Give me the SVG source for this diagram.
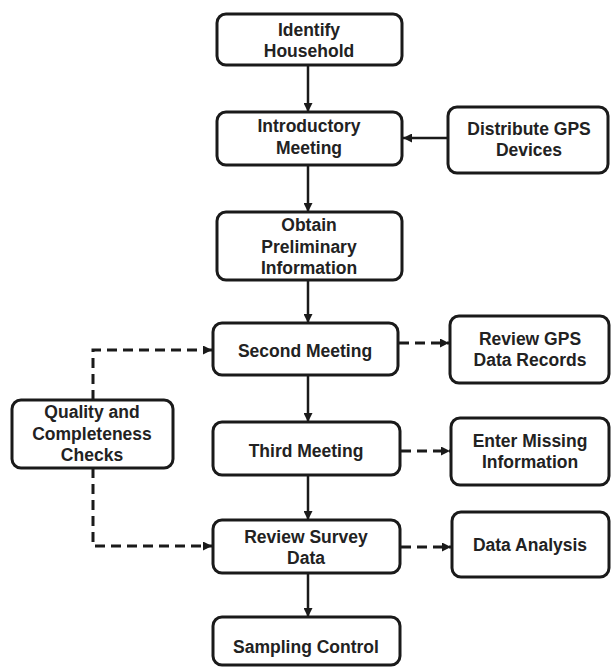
<svg xmlns="http://www.w3.org/2000/svg" width="611" height="670" viewBox="0 0 611 670">
<style>
.box{fill:#fff;stroke:#1a1a1a;stroke-width:3}
.t{font-family:"Liberation Sans",Arial,sans-serif;font-weight:bold;font-size:17.5px;fill:#222;text-anchor:middle}
.s{fill:none;stroke:#1a1a1a;stroke-width:2.5}
.d{fill:none;stroke:#1a1a1a;stroke-width:3;stroke-dasharray:10 6}
</style>
<defs>
<marker id="ah" viewBox="0 0 10 10" refX="10" refY="5" markerWidth="9" markerHeight="9" markerUnits="userSpaceOnUse" orient="auto">
<path d="M0,0 L10,5 L0,10 z" fill="#1a1a1a"/>
</marker>
</defs>
<g id="connectors">
<line class="s" x1="308" y1="65" x2="308" y2="112" marker-end="url(#ah)"/>
<line class="s" x1="448" y1="138" x2="403" y2="138" marker-end="url(#ah)"/>
<line class="s" x1="308" y1="165" x2="308" y2="212" marker-end="url(#ah)"/>
<line class="s" x1="308" y1="280" x2="308" y2="323" marker-end="url(#ah)"/>
<line class="s" x1="308" y1="375" x2="308" y2="422" marker-end="url(#ah)"/>
<line class="s" x1="308" y1="475" x2="308" y2="520" marker-end="url(#ah)"/>
<line class="s" x1="308" y1="573" x2="308" y2="617" marker-end="url(#ah)"/>
<line class="d" x1="399" y1="343" x2="449" y2="343" marker-end="url(#ah)"/>
<line class="d" x1="401" y1="451" x2="450" y2="451" marker-end="url(#ah)"/>
<line class="d" x1="401" y1="547" x2="451" y2="547" marker-end="url(#ah)"/>
<path class="d" d="M93,400 V350 H212" marker-end="url(#ah)"/>
<path class="d" d="M93,468 V546 H212" marker-end="url(#ah)"/>
</g>
<g id="identify">
<rect class="box" x="217" y="14" width="185" height="51" rx="9"/>
<text class="t" x="309" y="36">Identify</text>
<text class="t" x="309" y="57">Household</text>
</g>
<g id="introductory">
<rect class="box" x="217" y="112" width="185" height="53" rx="9"/>
<text class="t" x="309" y="132">Introductory</text>
<text class="t" x="309" y="154">Meeting</text>
</g>
<g id="distribute">
<rect class="box" x="448" y="107" width="160" height="66" rx="9"/>
<text class="t" x="529" y="135">Distribute GPS</text>
<text class="t" x="529" y="156">Devices</text>
</g>
<g id="obtain">
<rect class="box" x="217" y="212" width="185" height="68" rx="9"/>
<text class="t" x="309" y="231">Obtain</text>
<text class="t" x="309" y="253">Preliminary</text>
<text class="t" x="309" y="274">Information</text>
</g>
<g id="second">
<rect class="box" x="213" y="323" width="185" height="52" rx="9"/>
<text class="t" x="305" y="357">Second Meeting</text>
</g>
<g id="reviewgps">
<rect class="box" x="450" y="316" width="159" height="67" rx="9"/>
<text class="t" x="530" y="345">Review GPS</text>
<text class="t" x="530" y="366">Data Records</text>
</g>
<g id="quality">
<rect class="box" x="12" y="400" width="161" height="68" rx="9"/>
<text class="t" x="92" y="418">Quality and</text>
<text class="t" x="92" y="440">Completeness</text>
<text class="t" x="92" y="461">Checks</text>
</g>
<g id="third">
<rect class="box" x="213" y="422" width="187" height="53" rx="9"/>
<text class="t" x="306" y="457">Third Meeting</text>
</g>
<g id="enter">
<rect class="box" x="451" y="418" width="158" height="67" rx="9"/>
<text class="t" x="530" y="447">Enter Missing</text>
<text class="t" x="530" y="468">Information</text>
</g>
<g id="reviewsurvey">
<rect class="box" x="213" y="520" width="187" height="53" rx="9"/>
<text class="t" x="306" y="543">Review Survey</text>
<text class="t" x="306" y="564">Data</text>
</g>
<g id="analysis">
<rect class="box" x="452" y="512" width="157" height="65" rx="9"/>
<text class="t" x="530" y="551">Data Analysis</text>
</g>
<g id="sampling">
<rect class="box" x="213" y="617" width="187" height="48" rx="9"/>
<text class="t" x="306" y="653">Sampling Control</text>
</g>
</svg>
